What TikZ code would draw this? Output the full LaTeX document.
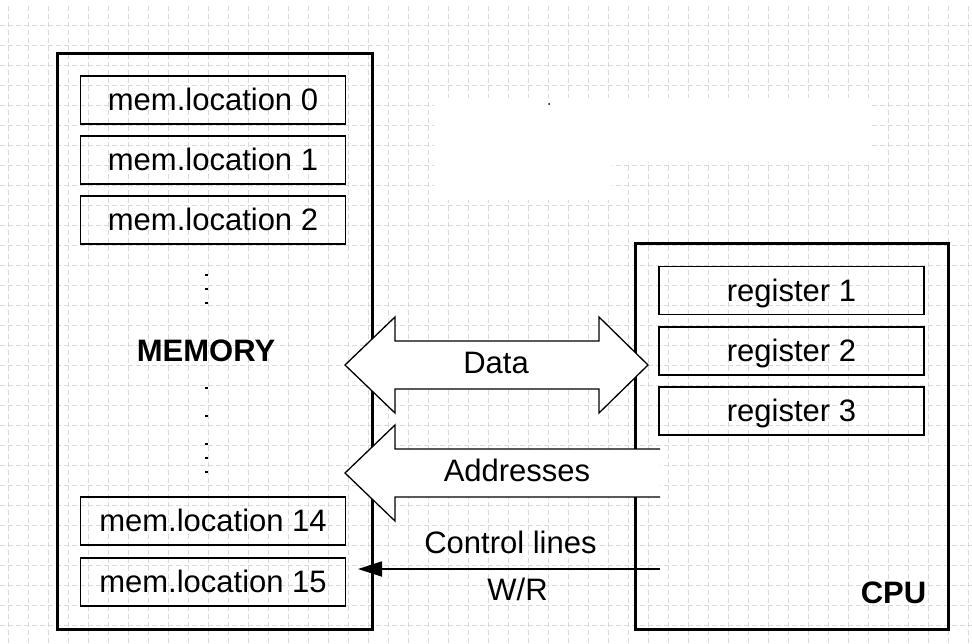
\documentclass[tikz,border=0pt]{standalone}
\usepackage{fontspec}
\setmainfont{Liberation Sans}
\usetikzlibrary{arrows.meta}
\begin{document}
\begin{tikzpicture}[x=1pt,y=-1pt,
  outerbox/.style={draw, line width=3pt, inner sep=0pt, anchor=north west},
  cell/.style={draw, line width=1.6pt, minimum width=265pt, minimum height=48pt, inner sep=0pt,
    font=\fontsize{31}{33}\selectfont, text height=21pt, text depth=0pt},
  lbl/.style={font=\fontsize{31}{33}\selectfont, inner sep=0pt, text height=21pt, text depth=0pt},
  boldlbl/.style={font=\fontsize{31}{33}\selectfont\bfseries, inner sep=0pt, text height=22pt, text depth=0pt},
  gridline/.style={black!15, line width=0.7pt, dash pattern=on 5pt off 3pt},
  bus/.style={line width=1.3pt, line join=miter},
  vdot/.style={fill=black}]
\fill[white] (0,0) rectangle (972,643);
\useasboundingbox (0,0) rectangle (972,643);
% grid
\foreach \x in {8,28,...,968} \draw[gridline] (\x,6) -- (\x,643);
\foreach \y in {25,45,...,640} \draw[gridline] (0,\y) -- (972,\y);
% erased patch
\fill[white] (434,98) rectangle (612,200);
\fill[white] (612,98) rectangle (872,162);
\fill (549,104) circle (1pt);
% memory
\node[outerbox, minimum width=315pt, minimum height=576pt] (mem) at (56,52) {};
\node[cell] (m0) at (213,100) {mem.location 0};
\node[cell] (m1) at (213,160) {mem.location 1};
\node[cell] (m2) at (213,220) {mem.location 2};
\node[cell] (m14) at (213,521) {mem.location 14};
\node[cell] (m15) at (213,582) {mem.location 15};
\node[boldlbl] (memlbl) at (206,350) {MEMORY};
\foreach \y in {275,289,303,388,416,444,458,472} \fill[vdot] (204.8,\y-1.4) rectangle ++(2.8,2.8);
% cpu
\node[outerbox, minimum width=313pt, minimum height=386pt] (cpu) at (634,242) {};
\node[cell] (r1) at (791.5,290.5) {register 1};
\node[cell] (r2) at (791.5,351) {register 2};
\node[cell] (r3) at (791.5,411) {register 3};
\node[boldlbl] (cpulbl) at (893.5,592.5) {CPU};
% data bus
\draw[bus, fill=white] (345,365) -- (395,317) -- (395,341) -- (599,341) -- (599,317) -- (648,365)
  -- (599,413) -- (599,389) -- (395,389) -- (395,413) -- cycle;
\node[lbl] (data) at (496,363) {Data};
% address bus
\fill[white] (660,449) -- (395,449) -- (395,425) -- (345,473) -- (395,521) -- (395,497) -- (660,497) -- cycle;
\draw[bus] (660,449) -- (395,449) -- (395,425) -- (345,473) -- (395,521) -- (395,497) -- (660,497);
\node[lbl] (addr) at (517,470.5) {Addresses};
% control line
\coordinate (cs) at (660,569);
\coordinate (ce) at (358,569);
\draw[line width=1.8pt, -{Triangle[length=24pt,width=15pt]}] (cs) -- (ce);
\node[lbl] (ctl) at (510.5,543) {Control lines};
\node[lbl] (wr) at (517.5,590) {W/R};
\end{tikzpicture}
\end{document}
